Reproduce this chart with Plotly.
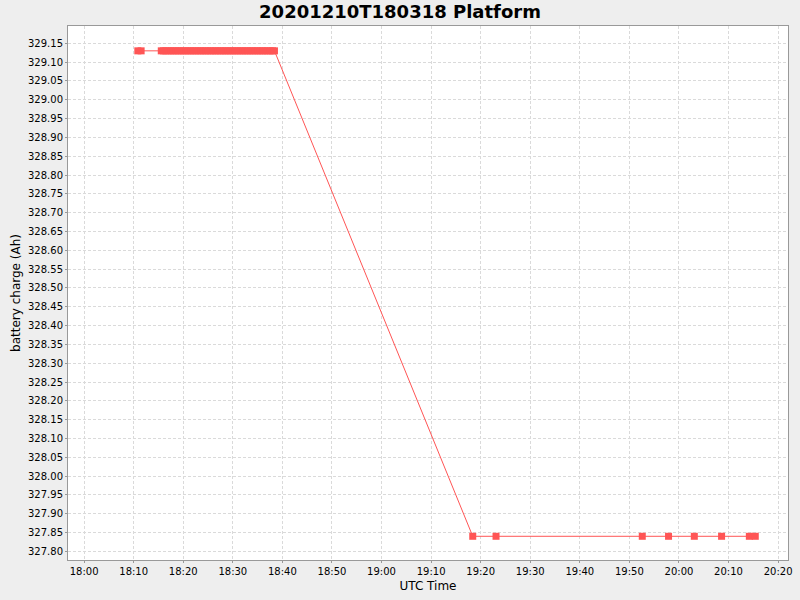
import plotly.graph_objects as go

# battery charge readings, 2020-12-10 (UTC)
times = [
    "18:10:50", "18:11:30",
    "18:15:34", "18:16:00", "18:16:30", "18:17:00", "18:17:30", "18:18:00",
    "18:18:30", "18:19:00", "18:19:30", "18:20:00", "18:20:30", "18:21:00",
    "18:21:30", "18:22:00", "18:22:30", "18:23:00", "18:23:30", "18:24:00",
    "18:24:30", "18:25:00", "18:25:30", "18:26:00", "18:26:30", "18:27:00",
    "18:27:30", "18:28:00", "18:28:30", "18:29:00", "18:29:30", "18:30:00",
    "18:30:30", "18:31:00", "18:31:30", "18:32:00", "18:32:30", "18:33:00",
    "18:33:30", "18:34:00", "18:34:30", "18:35:00", "18:35:30", "18:36:00",
    "18:36:30", "18:37:00", "18:37:30", "18:38:00", "18:38:24",
    "19:18:24", "19:23:06", "19:52:36", "19:57:54", "20:03:06", "20:08:36",
    "20:14:12", "20:15:24",
]
charge = [
    329.13, 329.13,
    329.13, 329.13, 329.13, 329.13, 329.13, 329.13,
    329.13, 329.13, 329.13, 329.13, 329.13, 329.13,
    329.13, 329.13, 329.13, 329.13, 329.13, 329.13,
    329.13, 329.13, 329.13, 329.13, 329.13, 329.13,
    329.13, 329.13, 329.13, 329.13, 329.13, 329.13,
    329.13, 329.13, 329.13, 329.13, 329.13, 329.13,
    329.13, 329.13, 329.13, 329.13, 329.13, 329.13,
    329.13, 329.13, 329.13, 329.13, 329.13,
    327.84, 327.84, 327.84, 327.84, 327.84, 327.84,
    327.84, 327.84,
]
DAY = "2020-12-10 "
x_ticks = ["18:00", "18:10", "18:20", "18:30", "18:40", "18:50", "19:00",
           "19:10", "19:20", "19:30", "19:40", "19:50", "20:00", "20:10", "20:20"]
y_ticks = [round(327.80 + 0.05 * i, 2) for i in range(28)]

RED = "#FF5555"
GRID = "#DADADA"
AXIS = "#999999"

fig = go.Figure()
fig.add_trace(go.Scatter(
    x=[DAY + t for t in times], y=charge,
    mode="lines+markers",
    line=dict(color=RED, width=1),
    marker=dict(symbol="square", size=7, color=RED, line=dict(width=0)),
    showlegend=False,
))

fig.update_layout(
    title=dict(text="<b>20201210T180318 Platform</b>", x=0.5, xanchor="center",
               y=0.98, yanchor="middle",
               font=dict(family="DejaVu Sans", size=18, color="black")),
    xaxis=dict(
        title=dict(text="UTC Time", font=dict(size=12, color="black"), standoff=5),
        type="date",
        range=[DAY + "17:56:45", DAY + "20:22:00"],
        tickvals=[DAY + t for t in x_ticks], ticktext=x_ticks,
        tickfont=dict(size=10, color="black"),
        showgrid=True, gridcolor=GRID, griddash="3px,2px", gridwidth=1,
        showline=True, linecolor=AXIS, linewidth=1, mirror=True,
        ticks="outside", ticklen=2, tickcolor=AXIS,
        zeroline=False,
    ),
    yaxis=dict(
        title=dict(text="battery charge (Ah)", font=dict(size=12, color="black"), standoff=4),
        range=[327.777, 329.196],
        tickvals=y_ticks, ticktext=[f"{v:.2f}" for v in y_ticks],
        tickfont=dict(size=10, color="black"),
        showgrid=True, gridcolor=GRID, griddash="3px,2px", gridwidth=1,
        showline=True, linecolor=AXIS, linewidth=1, mirror=True,
        ticks="outside", ticklen=2, tickcolor=AXIS,
        zeroline=False,
    ),
    font=dict(family="DejaVu Sans", color="black"),
    plot_bgcolor="white",
    paper_bgcolor="#EEEEEE",
    margin=dict(l=68, r=8, t=26, b=40),
    width=800,
    height=600,
    autosize=False,
)

# remove the browser's default body margin so the figure fills the window
fig.write_html(
    "out.html",
    config={"displayModeBar": False},
    post_script="document.body.style.margin='0';document.body.style.background='#EEEEEE';",
)
